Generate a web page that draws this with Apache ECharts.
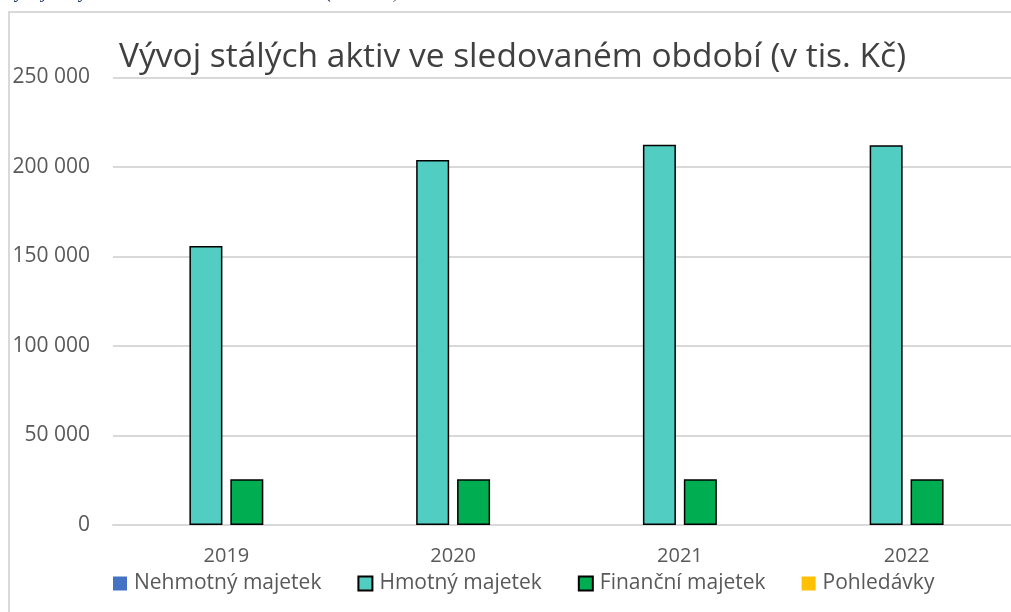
<!DOCTYPE html>
<html>
<head>
<meta charset="utf-8">
<script src="https://cdn.jsdelivr.net/npm/echarts@6/dist/echarts.min.js"></script>
<style>
  html, body { margin: 0; padding: 0; background: #fff; }
  #chart { width: 1011px; height: 612px; }
</style>
</head>
<body>
<div id="chart"></div>
<script>
// data (v tis. Kč)
var years = ['2019', '2020', '2021', '2022'];
var nehmotny = [0, 0, 0, 0];
var hmotny = [155900, 203900, 212400, 212100];
var financni = [25500, 25500, 25500, 25500];
var pohledavky = [0, 0, 0, 0];
var yTicks = [0, 50000, 100000, 150000, 200000, 250000];

var font = "'Open Sans', 'Noto Sans', sans-serif";

function fmt(v) {
    return String(v).replace(/\B(?=(\d{3})+(?!\d))/g, ' ');
}

function bar(name, data, color, border) {
    return {
        name: name,
        type: 'bar',
        data: data,
        barWidth: 33,
        barGap: '24%',
        itemStyle: {
            color: color,
            borderColor: border ? '#000' : color,
            borderWidth: border ? 1.5 : 0
        }
    };
}

var chart = echarts.init(document.getElementById('chart'));
chart.setOption({
    animation: false,
    title: {
        text: 'Vývoj stálých aktiv ve sledovaném období (v tis. Kč)',
        left: 114,
        top: 35,
        textStyle: { fontFamily: font, fontSize: 33.5, fontWeight: 'normal', color: '#404040' }
    },
    graphic: [
        { // frame of the chart box
            type: 'rect',
            shape: { x: 9, y: 12, width: 1040, height: 640 },
            style: { fill: 'none', stroke: '#d9d9d9', lineWidth: 2 },
            z: -1
        },
        { // caption cut off at top
            type: 'text',
            x: 4, y: 2,
            style: {
                text: 'Vývoj stálých aktiv ve sledovaném období (v tis. Kč)',
                font: 'italic 19px "Liberation Serif", serif',
                fill: '#1F3864',
                verticalAlign: 'bottom'
            }
        }
    ],
    legend: {
        top: 568,
        left: 108,
        icon: 'rect',
        itemWidth: 14,
        itemHeight: 14,
        itemGap: 36,
        textStyle: { fontFamily: font, fontSize: 21, color: '#595959', padding: [0, 0, 0, 2] },
        data: ['Nehmotný majetek', 'Hmotný majetek', 'Finanční majetek', 'Pohledávky']
    },
    grid: { left: 113, width: 907, top: 77.5, height: 447.5, outerBoundsMode: 'none' },
    xAxis: {
        type: 'category',
        data: years,
        axisTick: { show: false },
        axisLine: { lineStyle: { color: '#d9d9d9', width: 2 } },
        axisLabel: { fontFamily: font, fontSize: 20, color: '#595959', margin: 21 }
    },
    yAxis: {
        type: 'value',
        min: yTicks[0],
        max: yTicks[yTicks.length - 1],
        interval: 50000,
        axisLine: { show: false },
        axisTick: { show: false },
        splitLine: { lineStyle: { color: '#d9d9d9', width: 2 } },
        axisLabel: { fontFamily: font, fontSize: 21, color: '#595959', margin: 23, formatter: fmt }
    },
    series: [
        bar('Nehmotný majetek', nehmotny, '#4472C4', false),
        bar('Hmotný majetek', hmotny, '#52CDC1', true),
        bar('Finanční majetek', financni, '#00AD50', true),
        bar('Pohledávky', pohledavky, '#FFC000', false)
    ]
});
</script>
</body>
</html>
